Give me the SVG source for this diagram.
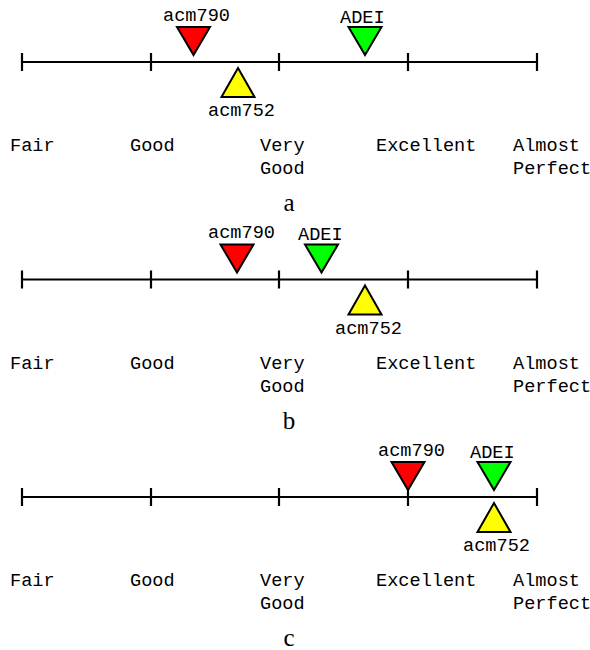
<svg xmlns="http://www.w3.org/2000/svg" width="590" height="650" viewBox="0 0 590 650">
<style>
.axis{stroke:#000;stroke-width:2.2;fill:none}
.tri{stroke:#000;stroke-width:2;stroke-linejoin:miter}
.red{fill:#ff0000}.green{fill:#00ff00}.yellow{fill:#ffff00}
.mono{font-family:"Liberation Mono","Courier New",monospace;font-size:18.6px;fill:#000}
.cap{font-family:"Liberation Serif","Times New Roman",serif;font-size:25px;fill:#000;text-anchor:middle}
</style>
<defs>
<g id="scale">
<path class="axis" d="M22,62H537M22,53V71M151,53V71M279,53V71M408,53V71M537,53V71"/>
<text class="mono" x="10" y="151">Fair</text>
<text class="mono" x="130" y="151">Good</text>
<text class="mono" x="260" y="151">Very</text>
<text class="mono" x="260" y="174">Good</text>
<text class="mono" x="376" y="151">Excellent</text>
<text class="mono" x="513" y="151">Almost</text>
<text class="mono" x="513" y="174">Perfect</text>
</g>
<polygon id="down" class="tri" points="-16.5,27 16.5,27 0,55"/>
<polygon id="up" class="tri" points="0,68 16.5,97 -16.5,97"/>
</defs>

<g id="panel-a">
<g id="connectors-a"><use href="#scale"/></g>
<g id="a-acm790"><use href="#down" class="red" x="193.5"/><text class="mono" x="163" y="20.5">acm790</text></g>
<g id="a-adei"><use href="#down" class="green" x="365"/><text class="mono" x="340" y="22.5">ADEI</text></g>
<g id="a-acm752"><use href="#up" class="yellow" x="238"/><text class="mono" x="208" y="116">acm752</text></g>
<text class="cap" x="289" y="211">a</text>
</g>

<g id="panel-b" transform="translate(0,217.5)">
<g id="connectors-b"><use href="#scale"/></g>
<g id="b-acm790"><use href="#down" class="red" x="237"/><text class="mono" x="208" y="20.5">acm790</text></g>
<g id="b-adei"><use href="#down" class="green" x="321.5"/><text class="mono" x="298" y="22.5">ADEI</text></g>
<g id="b-acm752"><use href="#up" class="yellow" x="365"/><text class="mono" x="335" y="116">acm752</text></g>
<text class="cap" x="289" y="211">b</text>
</g>

<g id="panel-c" transform="translate(0,435)">
<g id="connectors-c"><use href="#scale"/></g>
<g id="c-acm790"><use href="#down" class="red" x="408"/><text class="mono" x="378" y="20.5">acm790</text></g>
<g id="c-adei"><use href="#down" class="green" x="494"/><text class="mono" x="470" y="22.5">ADEI</text></g>
<g id="c-acm752"><use href="#up" class="yellow" x="494"/><text class="mono" x="463" y="116">acm752</text></g>
<text class="cap" x="289" y="211">c</text>
</g>
</svg>
